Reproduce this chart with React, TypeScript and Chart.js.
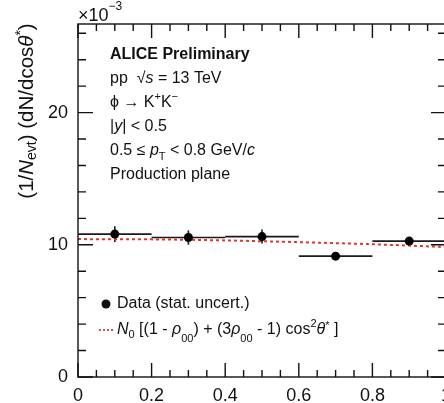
import React, { useEffect, useRef } from "react";
import { Chart, registerables } from "chart.js";

Chart.register(...registerables);

// cos(theta*) bin centres, half widths, normalised yields and stat. uncertainties (x 1e-3)
const binCenters = [0.1, 0.3, 0.5, 0.7, 0.9];
const binHalfWidths = [0.1, 0.1, 0.1, 0.1, 0.1];
const yields = [10.81, 10.55, 10.62, 9.14, 10.28];
const statErrors = [0.6, 0.54, 0.53, 0.3, 0.3];

// fitted angular distribution
const fitX = [0, 0.2, 0.4, 0.6, 0.8, 1.0];
const fitY = [10.43, 10.41, 10.33, 10.2, 10.04, 9.83];

// axis ticks
const yMajorTicks = [0, 10, 20];
const yMinorStep = 2;
const xMinorStep = 0.05;
const xMajorEvery = 4;

const FONT = "'Liberation Sans', Arial, Helvetica, sans-serif";
const INK = "#111";
const FIT_RED = "#e5342c";

type Seg = { t: string; it?: boolean; b?: boolean; sub?: boolean; sup?: boolean; dy?: number };

function segFont(s: Seg, size: number) {
  const sz = s.sub || s.sup ? Math.round(size * 0.68) : size;
  return `${s.it ? "italic " : ""}${s.b ? "bold " : ""}${sz}px ${FONT}`;
}

function runsWidth(ctx: CanvasRenderingContext2D, segs: Seg[], size: number) {
  let w = 0;
  for (const s of segs) {
    ctx.font = segFont(s, size);
    w += ctx.measureText(s.t).width;
  }
  return w;
}

function drawRuns(ctx: CanvasRenderingContext2D, segs: Seg[], x: number, y: number, size: number) {
  let cx = x;
  ctx.textAlign = "left";
  ctx.textBaseline = "middle";
  for (const s of segs) {
    ctx.font = segFont(s, size);
    const dy = s.dy !== undefined ? s.dy : s.sub ? size * 0.35 : s.sup ? -size * 0.38 : 0;
    ctx.fillText(s.t, cx, y + dy);
    cx += ctx.measureText(s.t).width;
  }
  return cx;
}

const infoLines: Seg[][] = [
  [{ t: "ALICE Preliminary", b: true }],
  [{ t: "pp  " }, { t: "\u221A" }, { t: "s", it: true }, { t: " = 13 TeV" }],
  [{ t: "\u03D5 \u2192 K" }, { t: "+", sup: true }, { t: "K" }, { t: "\u2212", sup: true }],
  [{ t: "|" }, { t: "y", it: true }, { t: "| < 0.5" }],
  [{ t: "0.5 \u2264 " }, { t: "p", it: true }, { t: "T", sub: true, dy: 6 }, { t: " < 0.8 GeV/" }, { t: "c", it: true }],
  [{ t: "Production plane" }],
];

const yTitle: Seg[] = [
  { t: "(1/" },
  { t: "N", it: true },
  { t: "evt", sub: true, dy: 5 },
  { t: ") (d" },
  { t: "N" },
  { t: "/dcos" },
  { t: "\u03B8", it: true },
  { t: "*", sup: true, dy: -6 },
  { t: ")" },
];

const fitLegend: Seg[] = [
  { t: "N", it: true },
  { t: "0", sub: true, dy: 5 },
  { t: " [(1 - " },
  { t: "\u03C1", it: true },
  { t: "00", sub: true, dy: 9 },
  { t: ") + (3" },
  { t: "\u03C1", it: true },
  { t: "00", sub: true, dy: 9 },
  { t: " - 1) cos" },
  { t: "2", sup: true, dy: -6 },
  { t: "\u03B8", it: true },
  { t: "*", sup: true, dy: -4 },
  { t: " ]" },
];

const decorPlugin = {
  id: "decor",
  beforeDatasetsDraw(chart: any) {
    const ctx: CanvasRenderingContext2D = chart.ctx;
    const xs = chart.scales.x;
    const ys = chart.scales.y;
    ctx.save();
    ctx.strokeStyle = "#1a1a1a";
    ctx.lineWidth = 1.6;
    binCenters.forEach((c, i) => {
      const py = ys.getPixelForValue(yields[i]);
      ctx.beginPath();
      ctx.moveTo(xs.getPixelForValue(c - binHalfWidths[i]), py);
      ctx.lineTo(xs.getPixelForValue(c + binHalfWidths[i]), py);
      ctx.stroke();
      const px = xs.getPixelForValue(c);
      ctx.beginPath();
      ctx.moveTo(px, ys.getPixelForValue(yields[i] - statErrors[i]));
      ctx.lineTo(px, ys.getPixelForValue(yields[i] + statErrors[i]));
      ctx.stroke();
    });
    ctx.restore();
  },
  afterDatasetsDraw(chart: any) {
    const ctx: CanvasRenderingContext2D = chart.ctx;
    const { left, right, top, bottom } = chart.chartArea;
    const xs = chart.scales.x;
    const ys = chart.scales.y;
    ctx.save();
    ctx.strokeStyle = INK;
    ctx.lineWidth = 1.4;
    ctx.strokeRect(left, top, right - left, bottom - top);

    // inward ticks on all four sides
    ctx.beginPath();
    const nx = Math.round((xs.max - xs.min) / xMinorStep);
    for (let i = 0; i <= nx; i++) {
      const px = xs.getPixelForValue(xs.min + i * xMinorStep);
      const len = i % xMajorEvery === 0 ? 14 : 7;
      ctx.moveTo(px, bottom);
      ctx.lineTo(px, bottom - len);
      ctx.moveTo(px, top);
      ctx.lineTo(px, top + len);
    }
    for (let v = 0; v <= ys.max; v += yMinorStep) {
      const py = ys.getPixelForValue(v);
      const len = yMajorTicks.includes(v) ? 15 : 8;
      ctx.moveTo(left, py);
      ctx.lineTo(left + len, py);
      ctx.moveTo(right, py);
      ctx.lineTo(right - len, py);
    }
    ctx.stroke();

    ctx.fillStyle = INK;
    // exponent above the y axis
    drawRuns(ctx, [{ t: "\u00D710" }, { t: "\u22123", sup: true, dy: -9 }], left, top - 8, 18);

    // y axis title
    ctx.save();
    ctx.translate(27, 111);
    ctx.rotate(-Math.PI / 2);
    const tw = runsWidth(ctx, yTitle, 20.5);
    drawRuns(ctx, yTitle, -tw / 2, 0, 20.5);
    ctx.restore();

    // info block
    infoLines.forEach((line, i) => {
      drawRuns(ctx, line, left + 32, top + 31 + i * 24, 16);
    });

    // legend
    ctx.beginPath();
    ctx.arc(left + 28, top + 280, 4.5, 0, Math.PI * 2);
    ctx.fill();
    drawRuns(ctx, [{ t: "Data (stat. uncert.)" }], left + 39, top + 280, 16);

    ctx.strokeStyle = FIT_RED;
    ctx.lineWidth = 1.8;
    ctx.setLineDash([2, 2]);
    ctx.beginPath();
    ctx.moveTo(left + 21, top + 306);
    ctx.lineTo(left + 35, top + 306);
    ctx.stroke();
    ctx.setLineDash([]);
    drawRuns(ctx, fitLegend, left + 39, top + 306, 16);
    ctx.restore();
  },
};

export default function App() {
  const canvasRef = useRef<HTMLCanvasElement | null>(null);

  useEffect(() => {
    const canvas = canvasRef.current;
    if (!canvas) return;
    const chart = new Chart(canvas, {
      type: "scatter",
      data: {
        datasets: [
          {
            label: "Data (stat. uncert.)",
            data: binCenters.map((x, i) => ({ x, y: yields[i] })),
            pointRadius: 4.5,
            pointBackgroundColor: "#000",
            pointBorderColor: "#000",
            pointBorderWidth: 0,
            showLine: false,
            order: 0,
          },
          {
            type: "line",
            label: "fit",
            data: fitX.map((x, i) => ({ x, y: fitY[i] })),
            borderColor: FIT_RED,
            borderDash: [3, 3],
            borderWidth: 2,
            pointRadius: 0,
            cubicInterpolationMode: "monotone",
            fill: false,
            order: 1,
          } as any,
        ],
      },
      options: {
        animation: false,
        responsive: false,
        devicePixelRatio: 1,
        layout: { padding: { left: 8, top: 24, right: 14, bottom: 0 } },
        plugins: { legend: { display: false }, tooltip: { enabled: false } },
        scales: {
          x: {
            type: "linear",
            min: 0,
            max: 1,
            grid: { display: false, drawTicks: false },
            border: { display: false },
            ticks: {
              stepSize: 0.2,
              autoSkip: false,
              maxRotation: 0,
              padding: 8,
              color: INK,
              font: { family: FONT, size: 18 },
              callback: (v: any) => Number(v).toFixed(1).replace(/\.0$/, ""),
            },
            afterFit: (s: any) => {
              s.height = 26;
            },
          },
          y: {
            type: "linear",
            min: 0,
            max: 26.7,
            grid: { display: false, drawTicks: false },
            border: { display: false },
            ticks: {
              padding: 10,
              color: INK,
              font: { family: FONT, size: 18 },
            },
            afterBuildTicks: (s: any) => {
              s.ticks = yMajorTicks.map((v) => ({ value: v }));
            },
            afterFit: (s: any) => {
              s.width = 70;
            },
          },
        },
      },
      plugins: [decorPlugin],
    });
    return () => chart.destroy();
  }, []);

  return (
    <div
      style={{
        position: "fixed",
        left: 0,
        top: 0,
        width: 444,
        height: 403,
        overflow: "hidden",
        background: "#fff",
      }}
    >
      <canvas ref={canvasRef} width={460} height={403} style={{ display: "block" }} />
    </div>
  );
}
